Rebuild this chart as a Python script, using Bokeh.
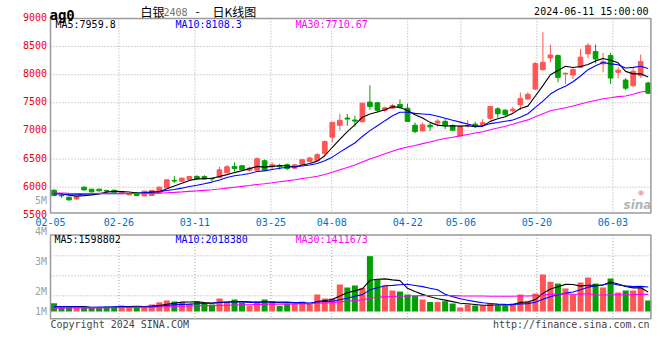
import numpy as np
from bokeh.plotting import figure
from bokeh.models import Range1d, Label, ColumnDataSource
from bokeh.core.properties import value
from bokeh.embed import file_html
from bokeh.resources import INLINE

# ---------------- data ----------------
dates = ["02-05","02-06","02-07","02-08",
         "02-19","02-20","02-21","02-22","02-23",
         "02-26","02-27","02-28","02-29","03-01",
         "03-04","03-05","03-06","03-07","03-08",
         "03-11","03-12","03-13","03-14","03-15",
         "03-18","03-19","03-20","03-21","03-22",
         "03-25","03-26","03-27","03-28","03-29",
         "04-01","04-02","04-03",
         "04-08","04-09","04-10","04-11","04-12",
         "04-15","04-16","04-17","04-18","04-19",
         "04-22","04-23","04-24","04-25","04-26",
         "04-29","04-30",
         "05-06","05-07","05-08","05-09","05-10",
         "05-13","05-14","05-15","05-16","05-17",
         "05-20","05-21","05-22","05-23","05-24",
         "05-27","05-28","05-29","05-30","05-31",
         "06-03","06-04","06-05","06-06","06-07",
         "06-11"]

tick_labels = ["02-05","02-26","03-11","03-25","04-08","04-22","05-06","05-20","06-03"]
price_ticks = [5500, 6000, 6500, 7000, 7500, 8000, 8500, 9000]
vol_tick_labels = ["5M", "4M", "3M", "2M", "1M"]

open_ = [5946,5857,5821,5792,6000,5964,5964,5940,5946,5905,
         5863,5899,5845,5852,5898,5988,6120,6107,6140,6190,
         6189,6159,6171,6260,6368,6380,6302,6302,6470,6362,
         6386,6398,6338,6410,6458,6470,6602,6889,7099,7229,
         7193,7163,7512,7500,7367,7404,7470,7404,7102,7000,
         7102,7139,7169,7096,6910,7090,7120,7108,7223,7392,
         7369,7357,7464,7566,7744,8089,8298,8339,8012,7994,
         8131,8369,8411,8190,8339,8042,7905,7804,7982,7851]
high = [5960,5881,5833,5833,6012,5970,5970,5958,5952,5935,
        5890,5905,5935,5950,6010,6140,6196,6175,6200,6213,
        6213,6165,6362,6395,6440,6398,6362,6530,6494,6440,
        6416,6422,6404,6500,6542,6602,6830,7153,7302,7301,
        7271,7494,7813,7512,7434,7476,7560,7482,7150,7150,
        7139,7211,7211,7120,7090,7193,7163,7211,7434,7422,
        7387,7429,7685,7685,8220,8756,8536,8357,8040,8131,
        8458,8560,8536,8387,8387,8131,7940,8119,8357,7875]
low = [5845,5810,5762,5768,5940,5905,5925,5893,5890,5895,
       5855,5845,5840,5845,5890,5980,6077,6090,6125,6140,
       6140,6105,6159,6240,6278,6290,6278,6290,6290,6320,
       6314,6302,6330,6398,6440,6452,6560,6799,7009,7090,
       7078,7150,7373,7331,7331,7392,7392,7163,6958,6988,
       7000,7078,7030,7000,6910,7060,7050,7072,7199,7235,
       7250,7327,7369,7548,7726,8071,8220,7863,7833,7923,
       8119,8292,8202,8042,7833,7940,7726,7774,7946,7660]
close = [5851,5845,5774,5827,5952,5917,5935,5929,5899,5923,
         5881,5851,5929,5941,6000,6130,6110,6160,6190,6150,
         6147,6147,6308,6362,6332,6308,6338,6506,6302,6398,
         6362,6332,6398,6488,6518,6578,6811,7153,7189,7211,
         7175,7494,7434,7367,7410,7452,7422,7169,6988,7108,
         7072,7175,7090,7012,7078,7100,7090,7145,7434,7305,
         7290,7385,7575,7650,8200,8220,8350,7952,8024,8089,
         8310,8520,8280,8230,7940,8080,7760,8060,8232,7670]
volume = [687000,357000,357000,302000,302000,302000,357000,412000,412000,494000,
          412000,412000,302000,577000,769000,906000,824000,769000,632000,824000,
          632000,577000,1071000,769000,989000,714000,494000,824000,989000,824000,
          467000,632000,632000,824000,604000,1401000,1071000,1071000,2225000,1978000,
          2143000,1950000,4560000,2637000,2143000,1731000,1648000,1401000,1291000,989000,
          780000,780000,850000,659000,330000,577000,494000,494000,700000,494000,
          494000,659000,1400000,880000,1480000,3050000,2450000,2300000,1900000,1401000,
          2390000,2800000,2300000,1980000,2720000,1566000,1731000,1731000,2060000,907000]

# closes / volumes of the sessions before 02-05 (feed the moving averages)
prior_close = [5880,5920,5950,5935,5900,5870,5890,5925,5940,5910,
               5885,5895,5930,5915,5890,5875,5905,5920,5905,5850,
               5860,5875,5880,5862,5870,5890,5910,5905,5907]
prior_volume = [180000,200000,190000,220000,210000,195000,230000,205000,185000,215000,
                200000,225000,210000,190000,220000,205000,215000,200000,230000,195000,
                420000,460000,450000,430000,432000,300000,320000,310000,308000]

price_header = ["MA5:7959.8", "MA10:8108.3", "MA30:7710.67"]
vol_header = ["MA5:1598802", "MA10:2018380", "MA30:1411673"]
title_code = "ag0"
title_name = "白银"
title_month = "2408"
title_kind = "日K线图"
stamp = "2024-06-11 15:00:00"
copyright_text = "Copyright 2024 SINA.COM"
site_text = "http://finance.sina.com.cn"
watermark = "sina"

# ---------------- derived ----------------
n = len(dates)
idx = np.arange(n)
o = np.array(open_, float); h = np.array(high, float)
l = np.array(low, float); c = np.array(close, float)
v = np.array(volume, float)

def ma(prior, vals, k):
    s = np.concatenate([np.array(prior, float), vals])
    out = np.convolve(s, np.ones(k) / k, mode="valid")
    return out[-len(vals):]

RED = "#FF5555"
GREEN = "#00A000"
col = [RED if cc >= oo else GREEN for oo, cc in zip(o, c)]

src = ColumnDataSource(dict(
    x=idx, h=h, l=l, v=v, col=col,
    top=np.maximum(o, c), bot=np.minimum(o, c),
    m5=ma(prior_close, c, 5), m10=ma(prior_close, c, 10), m30=ma(prior_close, c, 30),
    v5=ma(prior_volume, v, 5), v10=ma(prior_volume, v, 10), v30=ma(prior_volume, v, 30),
))

MA_COLORS = ["#000000", "#0000FF", "#FF00FF"]
MONO = "DejaVu Sans Mono"
CJK = "Noto Sans CJK SC"
GRIDC = "#A8A8A8"
BORDER = "#9A9A9A"

# ---------------- layout (canvas pixels) ----------------
W, H = 660, 360
X_PX0, X_STEP = 53.5, 7.5216      # centre of first session, pixels per session
G_PX0, G_STEP = 50.0, 7.6         # date grid
P_TOP_PY, P_PER_PX = 17.9, 17.775 # y pixel of top price tick, price per pixel
V_BASE, V_PER_PX = 311.0, 82410.0 # y pixel of zero volume, lots per pixel
PTOP = max(price_ticks)

def px2x(px):
    return (px - X_PX0) / X_STEP
def py2p(py):
    return PTOP - (py - P_TOP_PY) * P_PER_PX
def py2v(py):
    return (V_BASE - py) * V_PER_PX

p = figure(width=W, height=H,
           x_range=Range1d(px2x(0), px2x(W)), y_range=Range1d(py2p(H), py2p(0)),
           output_backend="svg", toolbar_location=None, title=None,
           x_axis_location=None, y_axis_location=None, min_border=0,
           outline_line_color=None)
p.xgrid.visible = False
p.ygrid.visible = False
p.extra_x_ranges = {"g": Range1d(-G_PX0 / G_STEP, (W - G_PX0) / G_STEP)}
p.extra_y_ranges = {"v": Range1d(py2v(H), py2v(0))}

price_bottom = py2p(212.5)
vol_top, vol_bottom = py2v(234.5), py2v(318.3)
vol_grid = [py2v(255.3), py2v(275.3), py2v(295.3)]
last = n - 1

# grids
gx = tick_idx = [dates.index(t) for t in tick_labels]
p.segment(x0=gx[1:], x1=gx[1:], y0=[PTOP] * (len(gx) - 1), y1=[price_bottom] * (len(gx) - 1),
          x_range_name="g", line_color=GRIDC, line_dash="1 2", line_width=1)
p.segment(x0=[0] * 6, x1=[last] * 6, y0=price_ticks[1:-1], y1=price_ticks[1:-1],
          x_range_name="g", line_color=GRIDC, line_dash="1 2", line_width=1)
p.segment(x0=gx[1:], x1=gx[1:], y0=[vol_top] * (len(gx) - 1), y1=[vol_bottom] * (len(gx) - 1),
          x_range_name="g", y_range_name="v", line_color=GRIDC, line_dash="1 2", line_width=1)
p.segment(x0=[0] * 3, x1=[last] * 3, y0=vol_grid, y1=vol_grid,
          x_range_name="g", y_range_name="v", line_color=GRIDC, line_dash="1 2", line_width=1)

# candles
p.segment(x0="x", y0="l", x1="x", y1="h", line_color="col", line_width=1, source=src)
p.vbar(x="x", width=0.62, top="top", bottom="bot", fill_color="col", line_color="col",
       line_width=1, source=src)
for key, colr in zip(["m5", "m10", "m30"], MA_COLORS):
    p.line(x="x", y=key, line_color=colr, line_width=1.1, source=src)

# volume
p.vbar(x="x", width=0.8, top="v", bottom=0, fill_color="col", line_color=None,
       y_range_name="v", source=src)
for key, colr in zip(["v5", "v10", "v30"], MA_COLORS):
    p.line(x="x", y=key, line_color=colr, line_width=1.1, y_range_name="v", source=src)

# panel borders
p.quad(left=[0], right=[last], top=[PTOP], bottom=[price_bottom], x_range_name="g",
       fill_color=None, line_color=BORDER, line_width=1.5)
p.quad(left=[0], right=[last], top=[vol_top], bottom=[vol_bottom], x_range_name="g",
       y_range_name="v", fill_color=None, line_color=BORDER, line_width=1.5)

# axis labels
p.text(x=[px2x(46.5)] * len(price_ticks), y=price_ticks, text=[str(t) for t in price_ticks],
       text_align="right", text_baseline="middle", y_offset=-1.5,
       text_color="#EE0000", text_font=value(MONO), text_font_size="10px")
p.text(x=tick_idx, y=[py2p(221.7)] * len(tick_idx), text=tick_labels, x_range_name="g",
       text_align="center", text_baseline="middle",
       text_color="#0070C8", text_font=value(MONO), text_font_size="10px")
vol_label_py = [200, 231, 260.5, 291, 311]
p.text(x=[px2x(46.5)] * len(vol_tick_labels), y=[py2v(q) for q in vol_label_py],
       text=vol_tick_labels, y_range_name="v", text_align="right", text_baseline="middle",
       text_color="#A0A0A0", text_font=value(MONO), text_font_size="10px")

def label(px, py, txt, colr, size="10px", font=MONO, align="left", style="normal",
          baseline="middle"):
    p.add_layout(Label(x=px2x(px), y=py2p(py), text=txt, text_color=colr,
                       text_font=font, text_font_size=size, text_align=align,
                       text_font_style=style, text_baseline=baseline))

for txt, colr, px in zip(price_header, MA_COLORS, [55, 175, 295]):
    label(px, 24, txt, colr)
for txt, colr, px in zip(vol_header, MA_COLORS, [54, 175, 295]):
    label(px, 238.5, txt, colr)

label(49, 14.5, title_code, "#000000", size="14px", style="bold", baseline="alphabetic")
label(140, 10.5, title_name, "#000000", size="12px", font=CJK)
label(163, 11, title_month, "#707070")
label(195, 10.5, "-", "#000000", size="12px", font=CJK)
label(212, 10.5, title_kind, "#000000", size="12px", font=CJK)
label(648, 11.2, stamp, "#000000", align="right")

label(50, 323.7, copyright_text, "#444444")
label(649, 323.5, site_text, "#444444", align="right")

label(637, 192, "◉", "#F3A5A5", size="8px", font="DejaVu Sans")
label(623, 204.5, watermark, "#B4B4B4", size="12px", font="DejaVu Sans",
      style="bold italic", baseline="alphabetic")

open("out.html", "w").write(file_html(p, INLINE))
